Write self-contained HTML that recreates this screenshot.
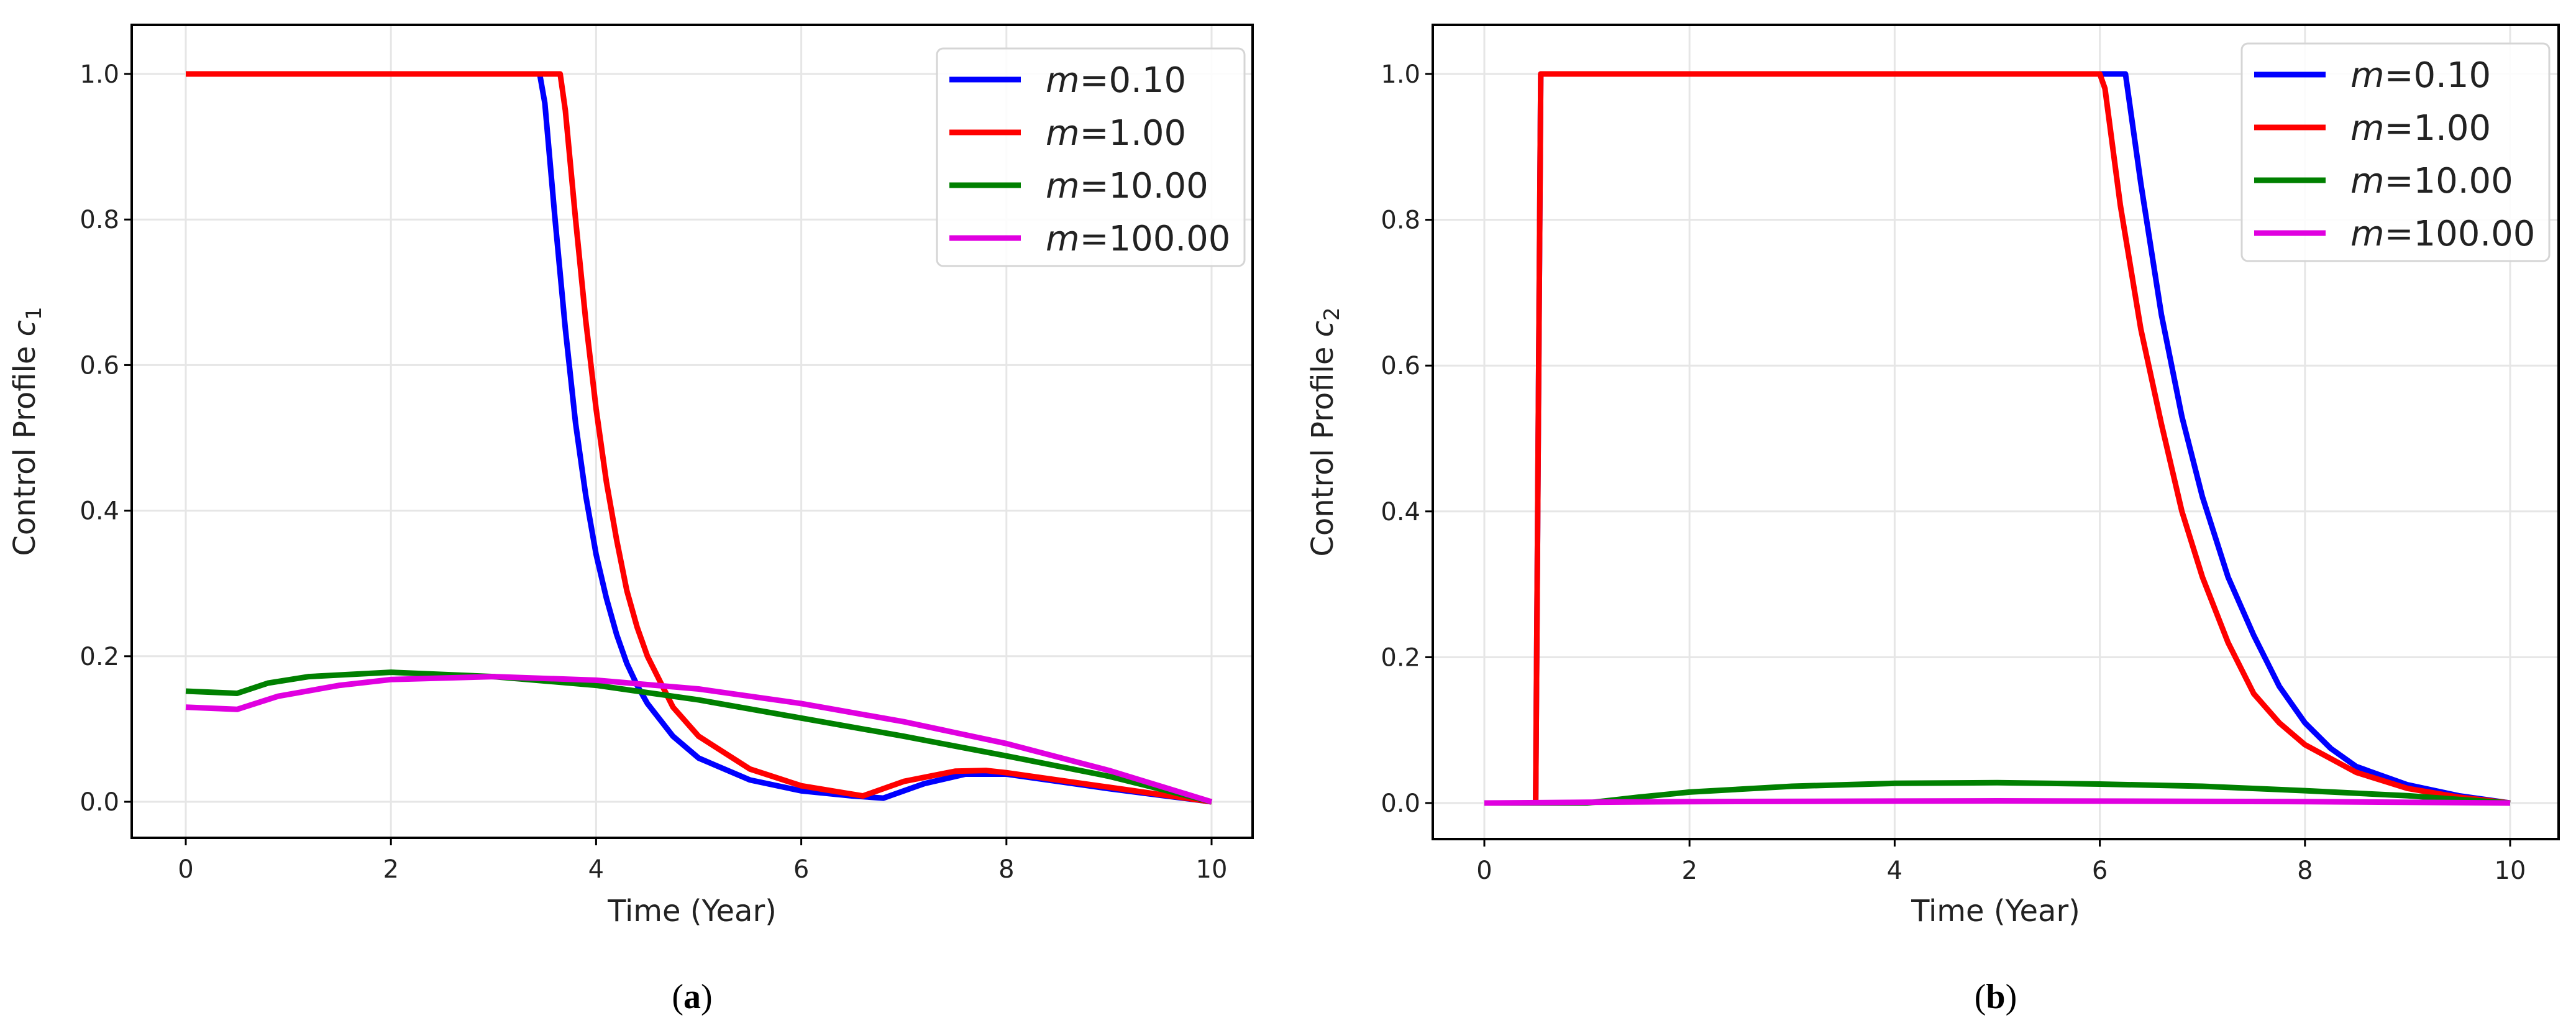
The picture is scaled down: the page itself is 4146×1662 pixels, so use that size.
<!DOCTYPE html>
<html><head><meta charset="utf-8"><style>
html,body{margin:0;padding:0;background:#fff;overflow:hidden;}
svg{display:block;font-family:"DejaVu Sans","Liberation Sans",sans-serif;}
</style></head><body>
<svg id="fig" width="4146" height="1662" viewBox="0 0 4146 1662"></svg>
<script>
const xTicks=[0,2,4,6,8,10];
const yTicks=[0.0,0.2,0.4,0.6,0.8,1.0];
const yTickLabels=["0.0","0.2","0.4","0.6","0.8","1.0"];
const seriesNames=["m=0.10","m=1.00","m=10.00","m=100.00"];
const seriesColors=["#0000ff","#ff0000","#008000","#e000e0"];
// panel a
const aBlueT=[0,3.45,3.5,3.6,3.7,3.8,3.9,4.0,4.1,4.2,4.3,4.4,4.5,4.75,5,5.5,6,6.5,6.8,7.2,7.6,8,8.5,9,9.5,10];
const aBlueV=[1,1,0.96,0.8,0.65,0.52,0.42,0.34,0.28,0.23,0.19,0.16,0.135,0.09,0.06,0.03,0.015,0.008,0.005,0.025,0.038,0.038,0.028,0.018,0.009,0];
const aRedT=[0,3.65,3.7,3.8,3.9,4.0,4.1,4.2,4.3,4.4,4.5,4.75,5,5.5,6,6.6,7,7.5,7.8,8,8.5,9,9.5,10];
const aRedV=[1,1,0.95,0.8,0.66,0.54,0.44,0.36,0.29,0.24,0.2,0.13,0.09,0.045,0.022,0.008,0.028,0.042,0.043,0.04,0.03,0.02,0.01,0];
const aGreenT=[0,0.5,0.8,1.2,2,3,4,5,6,7,8,9,10];
const aGreenV=[0.152,0.149,0.163,0.172,0.178,0.172,0.16,0.14,0.115,0.09,0.063,0.035,0];
const aMagT=[0,0.5,0.9,1.5,2,3,4,5,6,7,8,9,10];
const aMagV=[0.13,0.127,0.145,0.16,0.168,0.172,0.167,0.155,0.135,0.11,0.08,0.043,0];
// panel b
const bBlueT=[0,0.5,0.55,6.25,6.4,6.6,6.8,7,7.25,7.5,7.75,8,8.25,8.5,9,9.5,10];
const bBlueV=[0,0,1,1,0.85,0.67,0.53,0.42,0.31,0.23,0.16,0.11,0.075,0.05,0.025,0.01,0];
const bRedT=[0,0.5,0.55,6,6.05,6.2,6.4,6.6,6.8,7,7.25,7.5,7.75,8,8.5,9,9.5,10];
const bRedV=[0,0,1,1,0.98,0.82,0.65,0.52,0.4,0.31,0.22,0.15,0.11,0.08,0.042,0.02,0.008,0];
const bGreenT=[0,1,1.5,2,3,4,5,6,7,8,9,10];
const bGreenV=[0,0,0.008,0.015,0.023,0.027,0.028,0.026,0.023,0.017,0.01,0];
const bMagT=[0,1,2,5,8,10];
const bMagV=[0,0.001,0.002,0.003,0.002,0];

const NS="http://www.w3.org/2000/svg";
const svg=document.getElementById('fig');
function mk(tag,attrs,parent){const e=document.createElementNS(NS,tag);for(const k in attrs)e.setAttribute(k,attrs[k]);(parent||svg).appendChild(e);return e;}

function panel(cfg){
  const g=mk('g',{});
  
  
  const sx=v=>cfg.x0+v*(cfg.x10-cfg.x0)/10;
  const sy=v=>cfg.y0+v*(cfg.y1-cfg.y0);
  xTicks.forEach(t=>{const l=mk('line',{x1:sx(t),x2:sx(t),y1:cfg.top,y2:cfg.bottom,stroke:'#e6e6e6','stroke-width':3},g);
    });
  yTicks.forEach(t=>{const l=mk('line',{x1:cfg.left,x2:cfg.right,y1:sy(t),y2:sy(t),stroke:'#e6e6e6','stroke-width':3},g);
    });
  cfg.series.forEach((s,i)=>{
    const pts=s[0].map((t,j)=>sx(t).toFixed(1)+','+sy(s[1][j]).toFixed(1)).join(' ');
    const p=mk('polyline',{points:pts,fill:'none',stroke:seriesColors[i],'stroke-width':9,'stroke-linejoin':'round'},g);
    
    
  });
  const fr=mk('rect',{x:cfg.left,y:cfg.top,width:cfg.right-cfg.left,height:cfg.bottom-cfg.top,fill:'none',stroke:'#000','stroke-width':4},g);
  
  xTicks.forEach(t=>{
    mk('line',{x1:sx(t),x2:sx(t),y1:cfg.bottom,y2:cfg.bottom+12,stroke:'#000','stroke-width':3},g);
    const tx=mk('text',{x:sx(t),y:cfg.bottom+64,'text-anchor':'middle','font-size':40,fill:'#222'},g);
    tx.textContent=t;
  });
  yTicks.forEach((t,i)=>{
    mk('line',{x1:cfg.left-12,x2:cfg.left,y1:sy(t),y2:sy(t),stroke:'#000','stroke-width':3},g);
    const tx=mk('text',{x:cfg.left-20,y:sy(t)+14,'text-anchor':'end','font-size':40,fill:'#222'},g);
    tx.textContent=yTickLabels[i];
  });
  const xl=mk('text',{x:(cfg.left+cfg.right)/2,y:1482,'text-anchor':'middle','font-size':48,fill:'#222'},g);
  xl.textContent='Time (Year)';
  const yl=mk('text',{x:0,y:0,'text-anchor':'middle','font-size':48,fill:'#222',transform:`translate(${cfg.ylx},${(cfg.top+cfg.bottom)/2}) rotate(-90)`},g);
  yl.innerHTML='Control Profile <tspan font-style="italic">c</tspan><tspan font-size="34" dy="10">'+cfg.sub+'</tspan>';
  
  const lg=mk('g',{},g);
  mk('rect',{x:cfg.lx,y:cfg.ly,width:495,height:350,rx:10,fill:'#fff','fill-opacity':0.85,stroke:'#d5d5d5','stroke-width':3},lg);
  seriesNames.forEach((n,i)=>{
    const yy=cfg.ly+50+i*85;
    mk('line',{x1:cfg.lx+20,x2:cfg.lx+135,y1:yy,y2:yy,stroke:seriesColors[i],'stroke-width':9},lg);
    const t=mk('text',{x:cfg.lx+175,y:yy+20,'font-size':56,fill:'#222'},lg);
    t.innerHTML='<tspan font-style="italic">m</tspan>='+n.slice(2);
    
  });
  const cap=mk('text',{x:(cfg.left+cfg.right)/2,y:1622,'text-anchor':'middle','font-size':56,fill:'#000','font-family':'Liberation Serif, serif'},g);
  cap.innerHTML='(<tspan font-weight="bold">'+cfg.cap+'</tspan>)';
  
}
panel({name:'panel-a',left:212,right:2016,top:40,bottom:1348,x0:299,x10:1950,y0:1290,y1:119,ylx:56,sub:'1',
  lx:1508,ly:78,cap:'a',
  series:[[aBlueT,aBlueV],[aRedT,aRedV],[aGreenT,aGreenV],[aMagT,aMagV]]});
panel({name:'panel-b',left:2306,right:4118,top:40,bottom:1350,x0:2389,x10:4040,y0:1292,y1:119,ylx:2145,sub:'2',
  lx:3608,ly:70,cap:'b',
  series:[[bBlueT,bBlueV],[bRedT,bRedV],[bGreenT,bGreenV],[bMagT,bMagV]]});
</script>
</body></html>
